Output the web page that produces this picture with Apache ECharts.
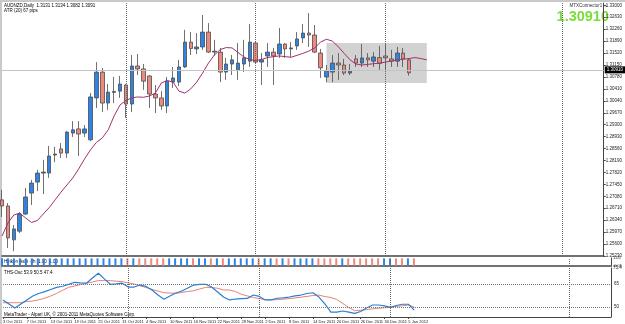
<!DOCTYPE html>
<html>
<head>
<meta charset="utf-8">
<script src="https://cdn.jsdelivr.net/npm/echarts@6/dist/echarts.min.js"></script>
<style>
html, body { margin: 0; padding: 0; background: #fff; }
#chart { width: 625px; height: 324px; }
</style>
</head>
<body>
<div id="chart"></div>
<script>
// daily candles, [open, close, low, high]
var candles = [
  [1.2697, 1.2678, 1.2644, 1.2728], [1.2678, 1.2579, 1.2548, 1.2687], [1.2573, 1.2607, 1.2538, 1.2619],
  [1.2600, 1.2653, 1.2594, 1.2659], [1.2653, 1.2706, 1.2650, 1.2734], [1.2718, 1.2749, 1.2681, 1.2759],
  [1.2752, 1.2780, 1.2724, 1.2790], [1.2780, 1.2783, 1.2715, 1.2821], [1.2780, 1.2833, 1.2765, 1.2864],
  [1.2836, 1.2839, 1.2814, 1.2861], [1.2855, 1.2842, 1.2827, 1.2873], [1.2842, 1.2907, 1.2827, 1.2910],
  [1.2904, 1.2914, 1.2892, 1.2941], [1.2917, 1.2901, 1.2833, 1.2941], [1.2904, 1.2917, 1.2892, 1.2929],
  [1.2883, 1.3016, 1.2879, 1.3028], [1.3013, 1.3093, 1.2982, 1.3124], [1.3093, 1.2997, 1.2969, 1.3106],
  [1.2997, 1.3031, 1.2976, 1.3056], [1.3030, 1.3033, 1.2997, 1.3078], [1.3034, 1.3056, 1.3013, 1.3081],
  [1.3053, 1.2994, 1.2951, 1.3056], [1.2994, 1.3112, 1.2969, 1.3146], [1.3112, 1.3103, 1.3084, 1.3149],
  [1.3103, 1.3065, 1.3038, 1.3118], [1.3081, 1.3025, 1.2982, 1.3084], [1.3025, 1.3013, 1.2966, 1.3053],
  [1.3013, 1.2988, 1.2976, 1.3034], [1.2988, 1.3065, 1.2966, 1.3078], [1.3062, 1.3075, 1.3044, 1.3109],
  [1.3062, 1.3109, 1.3050, 1.3131], [1.3109, 1.3186, 1.3106, 1.3224], [1.3186, 1.3166, 1.3146, 1.3217],
  [1.3165, 1.3171, 1.3149, 1.3214], [1.3171, 1.3217, 1.3162, 1.3270], [1.3217, 1.3155, 1.3152, 1.3245],
  [1.3155, 1.3158, 1.3143, 1.3193], [1.3155, 1.3093, 1.3062, 1.3168], [1.3093, 1.3118, 1.3069, 1.3137],
  [1.3118, 1.3131, 1.3084, 1.3146], [1.3100, 1.3121, 1.3069, 1.3183], [1.3118, 1.3137, 1.3093, 1.3193],
  [1.3127, 1.3186, 1.3109, 1.3242], [1.3183, 1.3124, 1.3121, 1.3186], [1.3124, 1.3131, 1.3053, 1.3152],
  [1.3143, 1.3155, 1.3109, 1.3183], [1.3155, 1.3143, 1.3053, 1.3168], [1.3149, 1.3180, 1.3137, 1.3230],
  [1.3180, 1.3165, 1.3137, 1.3183], [1.3165, 1.3168, 1.3140, 1.3186], [1.3174, 1.3196, 1.3162, 1.3217],
  [1.3199, 1.3214, 1.3183, 1.3242], [1.3214, 1.3208, 1.3171, 1.3276], [1.3208, 1.3155, 1.3152, 1.3239],
  [1.3152, 1.3106, 1.3075, 1.3165], [1.3078, 1.3096, 1.3062, 1.3115], [1.3093, 1.3121, 1.3062, 1.3146],
  [1.3121, 1.3115, 1.3069, 1.3152], [1.3115, 1.3090, 1.3084, 1.3134], [1.3090, 1.3096, 1.3084, 1.3118],
  [1.3134, 1.3121, 1.3109, 1.3146], [1.3121, 1.3137, 1.3109, 1.3180], [1.3137, 1.3131, 1.3109, 1.3152],
  [1.3127, 1.3140, 1.3109, 1.3155], [1.3138, 1.3120, 1.3100, 1.3174], [1.3143, 1.3137, 1.3093, 1.3183],
  [1.3134, 1.3127, 1.3109, 1.3162], [1.3127, 1.3152, 1.3109, 1.3171], [1.3152, 1.3134, 1.3109, 1.3168],
  [1.3131, 1.3091, 1.3082, 1.3134]
];

// shifted moving average (runs 3 bars past the last candle)
var maLine = [
  1.2585, 1.2625, 1.2650, 1.2656, 1.2641, 1.2627, 1.2633, 1.2653, 1.2673, 1.2697,
  1.2721, 1.2743, 1.2765, 1.2793, 1.2824, 1.2852, 1.2875, 1.2889, 1.2914, 1.2957,
  1.2991, 1.3005, 1.3013, 1.3016, 1.3015, 1.3019, 1.3028, 1.3059, 1.3067, 1.3062,
  1.3034, 1.3028, 1.3041, 1.3062, 1.3090, 1.3121, 1.3146, 1.3163, 1.3169, 1.3168,
  1.3154, 1.3140, 1.3132, 1.3129, 1.3132, 1.3138, 1.3141, 1.3143, 1.3141, 1.3139,
  1.3145, 1.3151, 1.3158, 1.3168, 1.3186, 1.3195, 1.3189, 1.3172, 1.3151, 1.3131,
  1.3118, 1.3115, 1.3117, 1.3119, 1.3121, 1.3124, 1.3127, 1.3131, 1.3133, 1.3135,
  1.3138, 1.3135, 1.3131
];

// THS-Osc, fast (blue) and slow (red) lines
var oscFast = [
  54.6, 52.0, 49.4, 52.0, 54.6, 57.2, 58.8, 60.0, 61.4, 62.8,
  63.5, 64.7, 66.1, 65.7, 65.5, 68.9, 72.0, 68.3, 64.8, 65.1,
  65.5, 63.0, 63.0, 64.3, 63.4, 61.1, 57.8, 55.0, 57.2, 59.1,
  60.4, 62.4, 64.3, 64.8, 64.8, 63.0, 59.8, 56.5, 54.6, 55.2,
  55.4, 55.6, 57.8, 56.9, 54.6, 54.6, 55.7, 56.0, 56.5, 57.2,
  57.8, 58.8, 59.3, 56.5, 52.0, 46.7, 46.7, 47.4, 46.7, 45.9,
  47.1, 49.4, 51.3, 51.3, 50.7, 49.8, 51.0, 51.8, 51.8, 48.0
];
var oscSlow = [
  52.8, 52.8, 52.8, 52.8, 53.6, 53.9, 54.7, 55.7, 57.2, 58.9,
  60.9, 62.8, 63.7, 64.6, 65.5, 66.3, 67.2, 67.2, 67.2, 66.8,
  66.5, 65.7, 65.0, 63.8, 62.7, 61.5, 60.4, 59.3, 59.1, 58.9,
  59.5, 60.1, 60.6, 61.7, 62.8, 62.7, 62.2, 61.1, 61.1, 60.1,
  58.3, 57.2, 56.2, 55.5, 54.8, 54.6, 54.8, 55.1, 55.5, 55.9,
  56.4, 56.9, 57.5, 57.8, 56.8, 56.2, 54.9, 52.3, 49.7, 47.6,
  47.9, 48.3, 48.8, 49.2, 49.5, 49.8, 50.4, 50.8, 51.3, 50.0
];
var oscLevels = [65, 50];

// trend bar panel: 1 = blue, 0 = red
var trendSignal = [
  1, 1, 1, 1, 1, 1, 1, 1, 1, 1, 1, 1, 1, 1, 1, 1, 1, 1, 1, 1,
  1, 0, 1, 0, 0, 0, 0, 0, 1, 1, 1, 1, 0, 1, 1, 0, 1, 0, 1, 1,
  1, 1, 1, 0, 1, 1, 0, 1, 0, 1, 1, 1, 1, 0, 0, 0, 0, 1, 0, 0,
  0, 0, 0, 0, 1, 1, 0, 0, 1, 0
];

// month separators (bar index)
var separators = [21, 43, 65, 95];
// shaded box [start bar, end bar, top price, bottom price]
var boxRange = [55, 72, 1.3183, 1.3059];

var monthNames = ['Jan', 'Feb', 'Mar', 'Apr', 'May', 'Jun', 'Jul', 'Aug', 'Sep', 'Oct', 'Nov', 'Dec'];
var dates = [];
var t = Date.UTC(2011, 9, 3);
while (dates.length < 103) {
  var d = new Date(t);
  var wd = d.getUTCDay();
  if (wd !== 0 && wd !== 6) {
    dates.push(d.getUTCDate() + ' ' + monthNames[d.getUTCMonth()] + ' ' + d.getUTCFullYear());
  }
  t += 86400000;
}
var lastBar = candles.length - 1;
var lastClose = candles[lastBar][1];

var sepLines = separators.map(function (s) { return { xAxis: s }; });
function sepMark() {
  return {
    silent: true, symbol: ['none', 'none'], animation: false,
    label: { show: false },
    lineStyle: { type: 'dotted', color: '#666', width: 1 },
    data: sepLines
  };
}

var font = 'Liberation Sans, Arial, sans-serif';
var myChart = echarts.init(document.getElementById('chart'));

myChart.setOption({
  backgroundColor: '#fff',
  animation: false,
  textStyle: { fontFamily: font },
  grid: [
    { left: 2, right: 14, top: 3, height: 253 },
    { left: 2, right: 14, top: 258, height: 8 },
    { left: 2, right: 14, top: 268, height: 49 }
  ],
  xAxis: [
    { type: 'category', gridIndex: 0, data: dates, boundaryGap: false,
      axisLine: { show: true, lineStyle: { color: '#444', width: 1.5 } },
      axisTick: { show: false }, axisLabel: { show: false }, splitLine: { show: false } },
    { type: 'category', gridIndex: 1, data: dates, boundaryGap: false,
      axisLine: { show: true, lineStyle: { color: '#444', width: 1.5 } },
      axisTick: { show: false }, axisLabel: { show: false }, splitLine: { show: false } },
    { type: 'category', gridIndex: 2, data: dates, boundaryGap: false,
      axisLine: { show: true, lineStyle: { color: '#444', width: 1 } },
      axisTick: {
        show: true, length: 2, lineStyle: { color: '#444' },
        interval: function (idx) { return idx % 4 === 0 && idx <= lastBar - 1; }
      },
      axisLabel: {
        interval: 0, fontSize: 4, color: '#222', margin: 3, align: 'left',
        formatter: function (val, idx) { return (idx % 4 === 0 && idx <= lastBar - 1) ? val : ''; }
      },
      splitLine: { show: false } }
  ],
  yAxis: [
    { type: 'value', gridIndex: 0, position: 'right', scale: true,
      min: 1.2523, max: 1.33072, interval: 0.0037,
      axisLine: { show: true, lineStyle: { color: '#444' } },
      axisTick: { show: true, length: 2, lineStyle: { color: '#444' } },
      axisLabel: { fontSize: 4.5, color: '#222', margin: 2,
        formatter: function (v) { return v.toFixed(5); } },
      splitLine: { show: false } },
    { type: 'value', gridIndex: 1, position: 'right',
      min: -0.05, max: 1.05, interval: 1.1,
      axisLine: { show: true, lineStyle: { color: '#444' } },
      axisTick: { show: false },
      axisLabel: { fontSize: 4, color: '#222', margin: 2,
        formatter: function (v) { return Math.abs(v - 1.05) < 1e-6 ? '1.05' : (Math.abs(v + 0.05) < 1e-6 ? '-0.05' : ''); } },
      splitLine: { show: false } },
    { type: 'value', gridIndex: 2, position: 'right',
      min: 43.5, max: 75.4, interval: 31.9,
      axisLine: { show: true, lineStyle: { color: '#444' } },
      axisTick: { show: false },
      axisLabel: { fontSize: 4.5, color: '#222', margin: 2,
        formatter: function (v) { return Math.abs(v - 75.4) < 1e-6 ? '75.4' : ''; } },
      splitLine: { show: false } }
  ],
  series: [
    {
      name: 'box', type: 'line', xAxisIndex: 0, yAxisIndex: 0, data: [], z: 1,
      markArea: {
        silent: true,
        itemStyle: { color: '#d2d2d2' },
        data: [[{ xAxis: boxRange[0], yAxis: boxRange[2] }, { xAxis: boxRange[1], yAxis: boxRange[3] }]]
      }
    },
    {
      name: 'AUDNZD', type: 'candlestick', xAxisIndex: 0, yAxisIndex: 0, z: 3,
      barWidth: 4,
      data: candles,
      itemStyle: {
        color: '#2d84e4', color0: '#ec8a7d',
        borderColor: '#4d4d4d', borderColor0: '#4d4d4d', borderWidth: 0.8
      },
      markLine: {
        silent: true, symbol: ['none', 'none'],
        lineStyle: { type: 'solid', color: '#c4c4c4', width: 1 },
        label: {
          position: 'end', distance: 1, fontSize: 4.5, color: '#fff',
          backgroundColor: '#000', padding: [1, 2],
          formatter: function () { return lastClose.toFixed(5); }
        },
        data: [{ yAxis: lastClose }]
      }
    },
    {
      name: 'MA', type: 'line', xAxisIndex: 0, yAxisIndex: 0, z: 4,
      data: maLine, showSymbol: false,
      lineStyle: { color: '#a3306f', width: 1 },
      markLine: sepMark()
    },
    {
      name: 'trend', type: 'bar', xAxisIndex: 1, yAxisIndex: 1, barWidth: 2,
      data: trendSignal.map(function (s) {
        return { value: 1, itemStyle: { color: s ? '#2d84e4' : '#ec8a7d' } };
      }),
      markLine: sepMark()
    },
    {
      name: 'THS fast', type: 'line', xAxisIndex: 2, yAxisIndex: 2, z: 4,
      data: oscFast, showSymbol: false,
      lineStyle: { color: '#2a7fd4', width: 1.2 },
      markLine: sepMark()
    },
    {
      name: 'THS slow', type: 'line', xAxisIndex: 2, yAxisIndex: 2, z: 3,
      data: oscSlow, showSymbol: false,
      lineStyle: { color: '#e48373', width: 1 },
      markLine: {
        silent: true, symbol: ['none', 'none'],
        lineStyle: { type: 'dotted', color: '#777', width: 1 },
        label: { position: 'end', distance: 3, fontSize: 4.5, color: '#222',
          formatter: function (p) { return p.value; } },
        data: oscLevels.map(function (v) { return { yAxis: v }; })
      }
    }
  ],
  graphic: [
    { type: 'rect', left: 0, top: 0, shape: { width: 625, height: 2 }, style: { fill: '#c9c9c9' }, silent: true },
    { type: 'rect', left: 0, top: 0, shape: { width: 2, height: 324 }, style: { fill: '#c9c9c9' }, silent: true },
    { type: 'text', left: 4, top: 3, silent: true,
      style: { text: 'AUDNZD,Daily  1.3131 1.3134 1.3082 1.3091', fontSize: 4.5, fill: '#000', fontFamily: font } },
    { type: 'text', left: 4, top: 8, silent: true,
      style: { text: 'ATR (20) 67 pips', fontSize: 4.5, fill: '#000', fontFamily: font } },
    { type: 'text', right: 17, top: 3, silent: true,
      style: { text: 'MTXConnector1 \u263A', fontSize: 4.5, fill: '#333', fontFamily: font } },
    { type: 'text', right: 16, top: 9, silent: true,
      style: { text: lastClose.toFixed(5), fontSize: 14.5, fontWeight: 'bold', fill: '#7bdc3c', fontFamily: font } },
    { type: 'text', left: 4, top: 259.5, silent: true,
      style: { text: 'Heiken Ashi  4h  1.00  1.00', fontSize: 4.5, fill: '#000', fontFamily: font } },
    { type: 'text', left: 4, top: 270, silent: true,
      style: { text: 'THS-Osc 53.9 50.5 47.4', fontSize: 4.5, fill: '#000', fontFamily: font } },
    { type: 'text', left: 4, top: 312, silent: true,
      style: { text: 'MetaTrader - Alpari UK, \u00A9 2001-2011 MetaQuotes Software Corp.', fontSize: 4.5, fill: '#000', fontFamily: font } }
  ]
});
</script>
</body>
</html>
